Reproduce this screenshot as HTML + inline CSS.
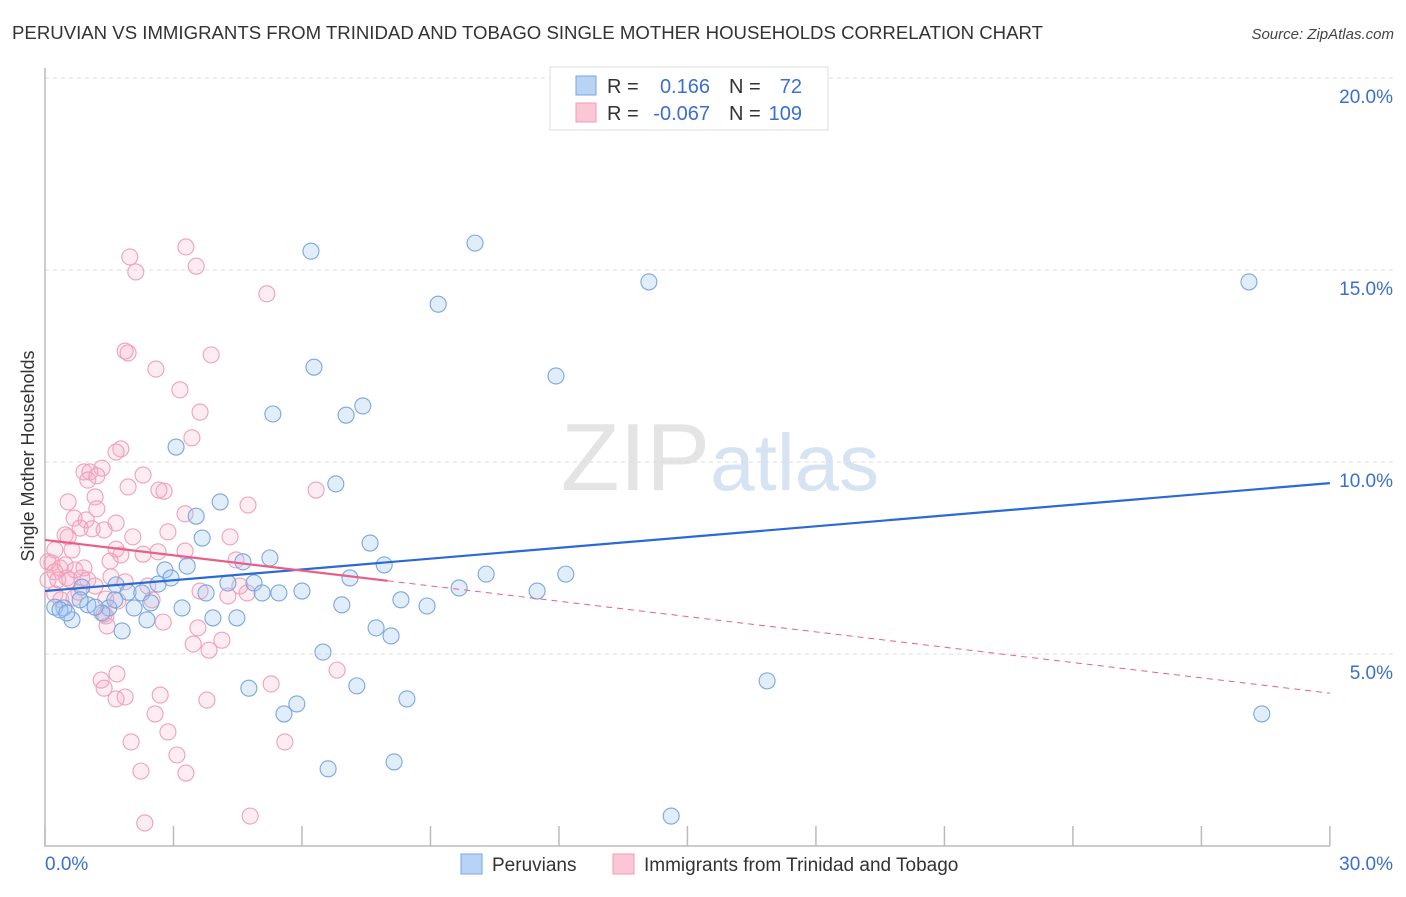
<!DOCTYPE html>
<html><head><meta charset="utf-8"><style>
body{margin:0;background:#fff;font-family:"Liberation Sans",sans-serif}
svg text{font-family:"Liberation Sans",sans-serif}
</style></head><body>
<svg id="chart" width="1406" height="892" viewBox="0 0 1406 892" xmlns="http://www.w3.org/2000/svg">
<text x="12" y="39" font-size="18" fill="#333" textLength="1031" lengthAdjust="spacingAndGlyphs">PERUVIAN VS IMMIGRANTS FROM TRINIDAD AND TOBAGO SINGLE MOTHER HOUSEHOLDS CORRELATION CHART</text>
<text x="1394" y="39" font-size="15" fill="#444" text-anchor="end" font-style="italic">Source: ZipAtlas.com</text>
<text x="720" y="490" font-size="96" text-anchor="middle" fill="#e4e4e4" font-family="Liberation Serif">ZIP<tspan fill="#d6e3f3" font-family="Liberation Sans" font-size="80">atlas</tspan></text>
<g id="grid"></g>
<g id="axes"></g>
<g id="pts"></g>
<g id="trend"></g>
<text transform="translate(34,456) rotate(-90)" font-size="18" fill="#333" text-anchor="middle">Single Mother Households</text>
<g>
<rect x="550" y="67" width="278" height="63" fill="#fff" stroke="#ddd"/>
<rect x="576" y="76" width="20" height="19" fill="#b8d3f5" stroke="#7aa6e0"/>
<rect x="576" y="103" width="20" height="19" fill="#fbc7d6" stroke="#f09bb4"/>
<text x="607" y="93" font-size="20" fill="#333">R =</text>
<text x="710" y="93" font-size="20" fill="#3a6fd0" text-anchor="end">0.166</text>
<text x="729" y="93" font-size="20" fill="#333">N =</text>
<text x="802" y="93" font-size="20" fill="#3a6fd0" text-anchor="end">72</text>
<text x="607" y="120" font-size="20" fill="#333">R =</text>
<text x="710" y="120" font-size="20" fill="#3a6fd0" text-anchor="end">-0.067</text>
<text x="729" y="120" font-size="20" fill="#333">N =</text>
<text x="802" y="120" font-size="20" fill="#3a6fd0" text-anchor="end">109</text>
</g>
<g>
<rect x="461" y="854" width="21" height="20" fill="#b8d3f5" stroke="#7aa6e0"/>
<text x="492" y="871" font-size="19" fill="#333">Peruvians</text>
<rect x="613" y="854" width="21" height="20" fill="#fbc7d6" stroke="#f09bb4"/>
<text x="644" y="871" font-size="19" fill="#333">Immigrants from Trinidad and Tobago</text>
</g>
</svg>
<script>
const blueX=[6.21,10.04,14.10,28.11,9.18,6.28,11.93,5.32,7.03,7.42,3.06,6.79,4.09,3.53,3.67,7.59,5.25,7.92,4.62,2.80,3.32,2.94,10.30,12.16,7.12,4.27,4.88,2.64,1.66,0.86,9.67,11.49,5.07,5.46,6.00,3.76,1.94,2.26,8.31,8.92,6.93,2.47,3.20,1.49,2.08,1.00,0.44,0.23,0.35,0.63,1.33,3.92,4.48,2.38,1.80,7.73,8.08,6.49,4.76,7.28,16.86,5.88,8.45,5.58,28.41,6.61,8.15,14.62,1.17,0.51,0.82,1.63];
const blueY=[15.49,15.70,14.69,14.69,14.11,12.47,12.24,11.25,11.22,11.46,10.39,9.43,8.96,8.59,8.02,7.89,7.50,7.32,7.40,7.19,7.29,6.98,7.08,7.08,6.98,6.85,6.85,6.82,6.80,6.74,6.72,6.64,6.59,6.59,6.64,6.59,6.61,6.59,6.41,6.25,6.28,6.33,6.20,6.20,6.20,6.28,6.20,6.22,6.15,5.89,6.07,5.94,5.94,5.89,5.60,5.68,5.47,5.05,4.11,4.17,4.30,3.70,3.83,3.44,3.44,2.01,2.19,0.78,6.22,6.07,6.41,6.41];
const pinkX=[3.29,1.98,3.53,2.12,5.18,1.87,1.94,3.88,2.59,3.15,3.62,3.43,1.77,1.66,0.91,1.33,1.05,1.21,2.29,1.00,1.94,0.54,2.66,2.78,1.17,1.21,4.74,6.33,3.27,0.68,0.96,1.66,0.82,1.10,1.38,0.47,0.54,2.05,2.87,4.32,0.23,0.63,1.66,1.77,2.29,2.64,3.27,4.46,1.52,0.07,0.16,0.35,0.47,0.23,0.70,0.91,0.51,0.86,0.07,0.30,0.58,1.54,1.87,1.17,2.40,4.55,3.62,4.72,0.23,0.79,0.37,0.68,1.42,1.70,2.50,1.38,1.45,2.76,3.57,3.46,4.13,3.83,6.82,1.31,1.68,1.38,5.28,2.69,1.87,1.66,3.78,2.57,2.87,2.01,5.60,3.08,2.24,3.29,2.33,4.79,4.27,1.42,1.00];
const pinkY=[15.60,15.34,15.10,14.95,14.38,12.89,12.84,12.79,12.42,11.88,11.30,10.63,10.34,10.26,9.74,9.84,9.74,9.64,9.66,9.53,9.35,8.96,9.27,9.24,9.09,8.78,8.88,9.27,8.65,8.54,8.49,8.41,8.28,8.26,8.23,8.10,8.05,8.05,8.18,8.05,7.71,7.71,7.73,7.58,7.60,7.66,7.68,7.45,7.42,7.40,7.37,7.24,7.32,7.14,7.19,7.24,6.98,6.98,6.93,6.93,6.93,7.01,6.88,6.77,6.77,6.77,6.64,6.59,6.56,6.61,6.41,6.46,6.43,6.38,6.41,6.04,5.73,5.83,5.68,5.26,5.36,5.10,4.58,4.32,4.48,4.11,4.22,3.93,3.88,3.83,3.80,3.44,2.97,2.71,2.71,2.37,1.95,1.90,0.60,0.78,6.51,5.99,6.93];
const blueTrend=[6.64,9.45];
const pinkTrend=[7.97,3.98];
const pinkSolidEnd=8.0;
const yTicks=[5,10,15,20];
const yTickLabels=["5.0%","10.0%","15.0%","20.0%"];
const xTicks=[0,3,6,9,12,15,18,21,24,27,30];
const NS="http://www.w3.org/2000/svg";
const sx=v=>45+v*42.83, sy=v=>846-v*38.4;
function mk(t,a,p){const e=document.createElementNS(NS,t);for(const k in a)e.setAttribute(k,a[k]);p.appendChild(e);return e;}
const grid=document.getElementById('grid'),axes=document.getElementById('axes'),pts=document.getElementById('pts'),tr=document.getElementById('trend');
yTicks.forEach((v,i)=>{
 const l=mk('line',{x1:45,x2:1393,y1:sy(v),y2:sy(v),stroke:'#ddd','stroke-dasharray':'4,4'},grid);
 
 
 const t=mk('text',{x:1393,y:sy(v)+25,'font-size':19,fill:'#3a6fd0','text-anchor':'end'},axes);
 t.textContent=yTickLabels[i];
 
 
});
const ax=mk('path',{d:'M45,68V846H1330',fill:'none',stroke:'#bbb','stroke-width':1.5},axes);


xTicks.forEach(v=>{const l=mk('line',{x1:sx(v),x2:sx(v),y1:826,y2:846,stroke:'#bbb','stroke-width':1.5},axes);
 
 });
let t0=mk('text',{x:45,y:870,'font-size':19,fill:'#3a6fd0'},axes);t0.textContent='0.0%';


let t1=mk('text',{x:1393,y:870,'font-size':19,fill:'#3a6fd0','text-anchor':'end'},axes);t1.textContent='30.0%';


pinkX.forEach((x,i)=>{const c=mk('circle',{cx:sx(x),cy:sy(pinkY[i]),r:8,fill:'rgba(248,170,195,0.22)',stroke:'#f0a0b8','stroke-width':1.1},pts);
 
 });
blueX.forEach((x,i)=>{const c=mk('circle',{cx:sx(x),cy:sy(blueY[i]),r:8,fill:'rgba(160,195,240,0.3)',stroke:'#7aa6e0','stroke-width':1.1},pts);
 
 });
const pAt=x=>pinkTrend[0]+(pinkTrend[1]-pinkTrend[0])*x/30;
let l1=mk('line',{x1:sx(0),y1:sy(blueTrend[0]),x2:sx(30),y2:sy(blueTrend[1]),stroke:'#2a6ad4','stroke-width':2.2},tr);


let l2=mk('line',{x1:sx(0),y1:sy(pAt(0)),x2:sx(pinkSolidEnd),y2:sy(pAt(pinkSolidEnd)),stroke:'#e8608a','stroke-width':2.2},tr);


let l3=mk('line',{x1:sx(pinkSolidEnd),y1:sy(pAt(pinkSolidEnd)),x2:sx(30),y2:sy(pAt(30)),stroke:'#e8608a','stroke-width':1,'stroke-dasharray':'6,5'},tr);


</script>
</body></html>
